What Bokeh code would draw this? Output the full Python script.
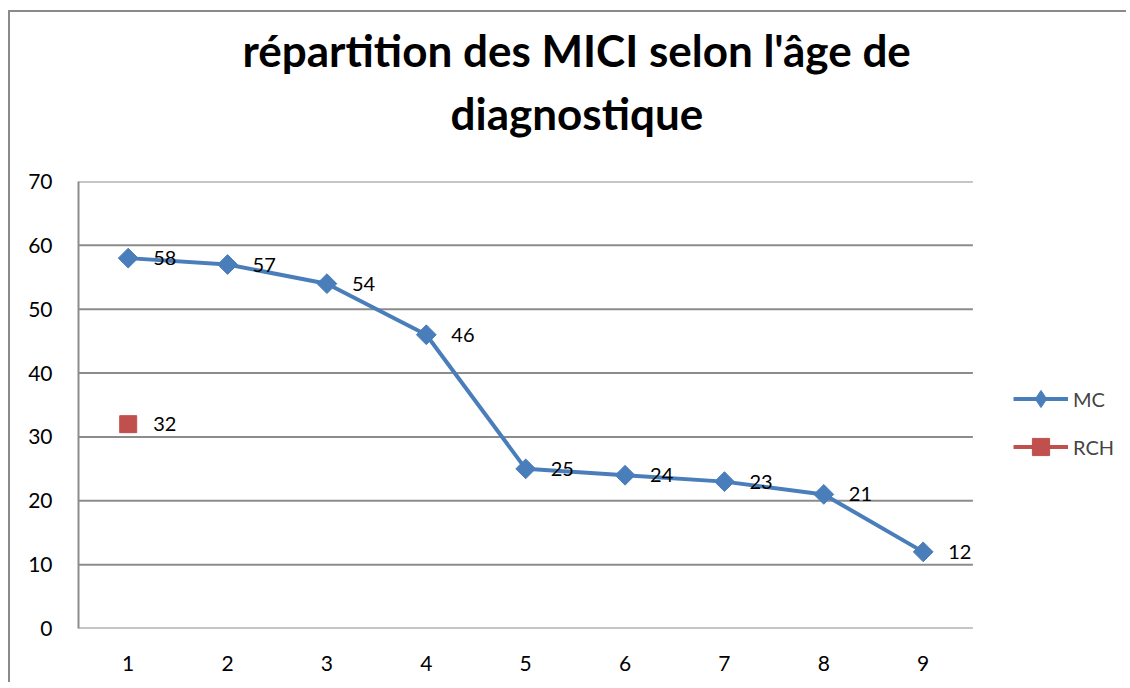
from bokeh.plotting import figure
from bokeh.models import (ColumnDataSource, Title, Legend, LegendItem, FixedTicker,
                          Range1d)
from bokeh.core.properties import value
from bokeh.embed import file_html
from bokeh.resources import INLINE
import numpy as np

categories = [1, 2, 3, 4, 5, 6, 7, 8, 9]
mc_values = [58, 57, 54, 46, 25, 24, 23, 21, 12]
rch_values = [32, None, None, None, None, None, None, None, None]
y_ticks = [0, 10, 20, 30, 40, 50, 60, 70]
title_line1 = "répartition des MICI selon l'âge de"
title_line2 = "diagnostique"

BLUE = "#4a7ebb"
RED = "#c0504d"
GRID = "#8c8c8c"
FONT = "Lato"

W, H = 1118, 672
# frame spans the plot area plus the legend area; category axis keeps ~99.4 px per step
CAT_PX = 99.375
FRAME_W = W - 68
x_end = 0.5 + FRAME_W / CAT_PX

p = figure(width=W, height=H, output_backend="svg", toolbar_location=None,
           x_range=Range1d(0.5, x_end), y_range=Range1d(0, 70),
           min_border_left=68, min_border_right=0, min_border_bottom=56,
           min_border_top=169,
           styles={"border-left": "2px solid #8a8a8a", "border-top": "2px solid #8a8a8a",
                   "margin-top": "10px", "margin-left": "8px"})
p.outline_line_color = None
p.background_fill_color = "white"
p.border_fill_color = "white"

# titles (added nearest-to-plot first), left aligned with offsets to centre them
p.add_layout(Title(text=title_line2, text_font=FONT, text_font_size="44px",
                   text_font_style="bold", align="left", offset=372,
                   standoff=85, text_color="black"), "above")
p.add_layout(Title(text=title_line1, text_font=FONT, text_font_size="44px",
                   text_font_style="bold", align="left", offset=164,
                   standoff=-66, text_color="black"), "above")

# axes
p.xaxis.ticker = FixedTicker(ticks=categories)
p.yaxis.ticker = FixedTicker(ticks=y_ticks)
for ax in (p.xaxis, p.yaxis):
    ax.major_tick_line_color = None
    ax.minor_tick_line_color = None
    ax.major_label_text_font = FONT
    ax.major_label_text_font_size = "21px"
    ax.major_label_text_color = "black"
p.yaxis.axis_line_color = GRID
p.yaxis.axis_line_width = 2
p.xaxis.axis_line_color = None
p.xaxis.major_label_standoff = 21
p.yaxis.major_label_standoff = 20
p.xgrid.grid_line_color = None
p.ygrid.grid_line_color = None

# horizontal gridlines limited to the category span (0.5 .. 9.5)
p.segment(x0=[categories[0] - 0.5] * len(y_ticks), x1=[categories[-1] + 0.5] * len(y_ticks),
          y0=y_ticks, y1=y_ticks, line_color=GRID, line_width=2)

mc_src = ColumnDataSource(dict(x=categories, y=mc_values, t=[str(v) for v in mc_values]))
rch_y = [np.nan if v is None else v for v in rch_values]
rch_src = ColumnDataSource(dict(x=categories, y=rch_y,
                                t=["" if v is None else str(v) for v in rch_values]))
# a row without position: used only to draw the legend's marker glyphs
legend_only = ColumnDataSource(dict(x=[np.nan], y=[np.nan]))

mc_line = p.line("x", "y", source=mc_src, line_color=BLUE, line_width=4)
mc_pts = p.scatter("x", "y", source=mc_src, marker="square", angle=np.pi / 4, size=14,
                   fill_color=BLUE, line_color=BLUE)
rch_line = p.line("x", "y", source=rch_src, line_color=RED, line_width=4)
rch_pts = p.scatter("x", "y", source=rch_src, marker="square", size=17,
                    fill_color=RED, line_color=RED)
mc_leg = p.scatter("x", "y", source=legend_only, marker="diamond", size=17,
                   fill_color=BLUE, line_color=BLUE)
rch_leg = p.scatter("x", "y", source=legend_only, marker="square", size=17,
                    fill_color=RED, line_color=RED)

p.text("x", "y", text="t", source=mc_src, x_offset=25, text_baseline="middle",
       text_font=value(FONT), text_font_size="20px", text_color="black")
p.text("x", "y", text="t", source=rch_src, x_offset=25, text_baseline="middle",
       text_font=value(FONT), text_font_size="20px", text_color="black")

legend = Legend(items=[LegendItem(label="MC", renderers=[mc_line, mc_leg]),
                       LegendItem(label="RCH", renderers=[rch_line, rch_leg])],
                location=(935, 160), padding=0, margin=0, spacing=5,
                glyph_width=55, glyph_height=43, label_standoff=5,
                label_text_font=FONT, label_text_font_size="20px",
                border_line_color=None, background_fill_alpha=0)
p.add_layout(legend)

open("out.html", "w").write(file_html(p, INLINE))
